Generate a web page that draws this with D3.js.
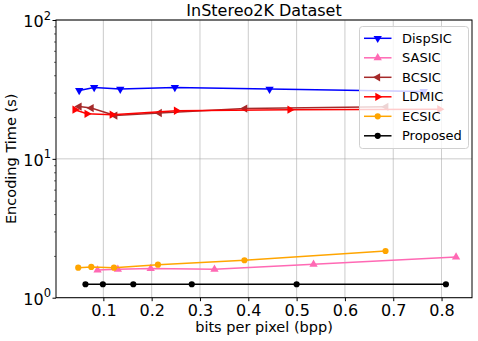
<!DOCTYPE html>
<html>
<head>
<meta charset="utf-8">
<script src="https://cdn.jsdelivr.net/npm/d3@7"></script>
<style>
  body { margin: 0; background: #fff; }
  text { font-family: "DejaVu Sans", sans-serif; }
</style>
</head>
<body>
<div id="chart"></div>
<script>
// Data
const seriesNames = ["DispSIC", "SASIC", "BCSIC", "LDMIC", "ECSIC", "Proposed"];
const dispsicBpp = [0.050, 0.081, 0.135, 0.248, 0.444, 0.763];
const dispsicTime = [31.1, 32.7, 31.8, 32.7, 31.8, 30.6];
const sasicBpp = [0.088, 0.130, 0.198, 0.330, 0.535, 0.830];
const sasicTime = [1.58, 1.60, 1.62, 1.60, 1.74, 1.96];
const bcsicBpp = [0.050, 0.075, 0.124, 0.216, 0.393, 0.685];
const bcsicTime = [23.8, 23.2, 20.5, 21.4, 23.0, 23.7];
const ldmicBpp = [0.041, 0.066, 0.118, 0.251, 0.486, 0.796];
const ldmicTime = [22.6, 21.1, 20.8, 22.2, 22.6, 22.8];
const ecsicBpp = [0.048, 0.075, 0.122, 0.213, 0.392, 0.684];
const ecsicTime = [1.645, 1.665, 1.645, 1.73, 1.86, 2.17];
const proposedBpp = [0.063, 0.099, 0.162, 0.283, 0.500, 0.809];
const proposedTime = [1.25, 1.25, 1.25, 1.25, 1.25, 1.25];
const xTicks = [0.1, 0.2, 0.3, 0.4, 0.5, 0.6, 0.7, 0.8];
const yTicks = [1, 10, 100];

const styles = [
  { color: "#0000ff", marker: "down" },
  { color: "#ff69b4", marker: "up" },
  { color: "#a52a2a", marker: "left" },
  { color: "#ff0000", marker: "right" },
  { color: "#ffa500", marker: "circle" },
  { color: "#000000", marker: "circle" }
];
const xs = [dispsicBpp, sasicBpp, bcsicBpp, ldmicBpp, ecsicBpp, proposedBpp];
const ys = [dispsicTime, sasicTime, bcsicTime, ldmicTime, ecsicTime, proposedTime];

const series = seriesNames.map((name, i) => ({
  name: name,
  color: styles[i].color,
  marker: styles[i].marker,
  points: xs[i].map((x, j) => ({ x: x, y: ys[i][j] }))
}));

const width = 478, height = 341;
const margin = { top: 20, right: 6, bottom: 43.3, left: 56 };
const innerW = width - margin.left - margin.right;
const innerH = height - margin.top - margin.bottom;

const svg = d3.select('#chart').append('svg')
  .attr('width', width)
  .attr('height', height);

const g = svg.append('g')
  .attr('transform', `translate(${margin.left},${margin.top})`);

const x = d3.scaleLinear().domain([0.002, 0.863]).range([0, innerW]);
const y = d3.scaleLog().domain([1, 100]).range([innerH, 0]);

// grid
g.append('g').selectAll('line')
  .data(xTicks).enter().append('line')
  .attr('x1', d => x(d)).attr('x2', d => x(d))
  .attr('y1', 0).attr('y2', innerH)
  .attr('stroke', '#b0b0b0').attr('stroke-width', 0.8).attr('opacity', 0.8);
g.append('g').selectAll('line')
  .data(yTicks).enter().append('line')
  .attr('x1', 0).attr('x2', innerW)
  .attr('y1', d => y(d)).attr('y2', d => y(d))
  .attr('stroke', '#b0b0b0').attr('stroke-width', 0.8).attr('opacity', 0.8);

// axes
const xAxis = g.append('g')
  .attr('transform', `translate(0,${innerH})`)
  .call(d3.axisBottom(x).tickValues(xTicks).tickFormat(d3.format('.1f')).tickSize(3.5).tickPadding(3.5));
xAxis.select('.domain').remove();
xAxis.selectAll('text').attr('font-size', 16).attr('fill', '#000');
xAxis.selectAll('line').attr('stroke', '#000');

const minorTicks = [];
[1, 10].forEach(base => { for (let k = 2; k <= 9; k++) minorTicks.push(base * k); });
const yMinor = g.append('g')
  .call(d3.axisLeft(y).tickValues(minorTicks).tickFormat('').tickSize(2));
yMinor.select('.domain').remove();
yMinor.selectAll('line').attr('stroke', '#000').attr('stroke-width', 0.6);

const yAxis = g.append('g')
  .call(d3.axisLeft(y).tickValues(yTicks).tickFormat('').tickSize(3.5));
yAxis.select('.domain').remove();
yAxis.selectAll('line').attr('stroke', '#000');

const yLabels = g.append('g').selectAll('text')
  .data(yTicks).enter().append('text')
  .attr('x', -5)
  .attr('y', d => y(d) + 7)
  .attr('text-anchor', 'end')
  .attr('font-size', 16)
  .attr('fill', '#000');
yLabels.append('tspan').text('10');
yLabels.append('tspan')
  .attr('font-size', 11.5)
  .attr('dy', -7.5)
  .text(d => Math.round(Math.log10(d)));

// frame
g.append('rect')
  .attr('width', innerW).attr('height', innerH)
  .attr('fill', 'none').attr('stroke', '#000').attr('stroke-width', 1);

// markers
function markerPath(type) {
  if (type === 'circle') return d3.symbol().type(d3.symbolCircle).size(30)();
  return d3.symbol().type(d3.symbolTriangle).size(30)();
}
function markerRotate(type) {
  return { up: 0, down: 180, left: -90, right: 90, circle: 0 }[type];
}

const line = d3.line().x(d => x(d.x)).y(d => y(d.y));

const sg = g.selectAll('.series')
  .data(series).enter().append('g')
  .attr('class', 'series');

sg.append('path')
  .attr('d', d => line(d.points))
  .attr('fill', 'none')
  .attr('stroke', d => d.color)
  .attr('stroke-width', 1.5);

sg.each(function (s) {
  d3.select(this).selectAll('path.m')
    .data(s.points).enter().append('path')
    .attr('class', 'm')
    .attr('d', markerPath(s.marker))
    .attr('transform', d => `translate(${x(d.x)},${y(d.y)}) rotate(${markerRotate(s.marker)})`)
    .attr('fill', s.color);
});

// title and axis labels
svg.append('text')
  .attr('x', margin.left + innerW / 2)
  .attr('y', 16)
  .attr('text-anchor', 'middle')
  .attr('font-size', 16)
  .text('InStereo2K Dataset');

svg.append('text')
  .attr('x', margin.left + innerW / 2)
  .attr('y', 332)
  .attr('text-anchor', 'middle')
  .attr('font-size', 14.5)
  .text('bits per pixel (bpp)');

svg.append('text')
  .attr('transform', `translate(15.5,${margin.top + innerH / 2}) rotate(-90)`)
  .attr('text-anchor', 'middle')
  .attr('font-size', 14.5)
  .text('Encoding Time (s)');

// legend
const legend = svg.append('g').attr('transform', 'translate(359.5,26.5)');
legend.append('rect')
  .attr('width', 109).attr('height', 122)
  .attr('rx', 3)
  .attr('fill', '#fff').attr('fill-opacity', 0.8)
  .attr('stroke', '#d0d0d0').attr('stroke-width', 1);

const items = legend.selectAll('.item')
  .data(series).enter().append('g')
  .attr('class', 'item')
  .attr('transform', (d, i) => `translate(0,${11.8 + i * 19.5})`);
items.append('line')
  .attr('x1', 4.5).attr('x2', 32)
  .attr('stroke', d => d.color).attr('stroke-width', 1.5);
items.append('path')
  .attr('d', d => markerPath(d.marker))
  .attr('transform', d => `translate(18.2,0) rotate(${markerRotate(d.marker)})`)
  .attr('fill', d => d.color);
items.append('text')
  .attr('x', 42.5)
  .attr('y', 4.6)
  .attr('font-size', 13)
  .text(d => d.name);
</script>
</body>
</html>
